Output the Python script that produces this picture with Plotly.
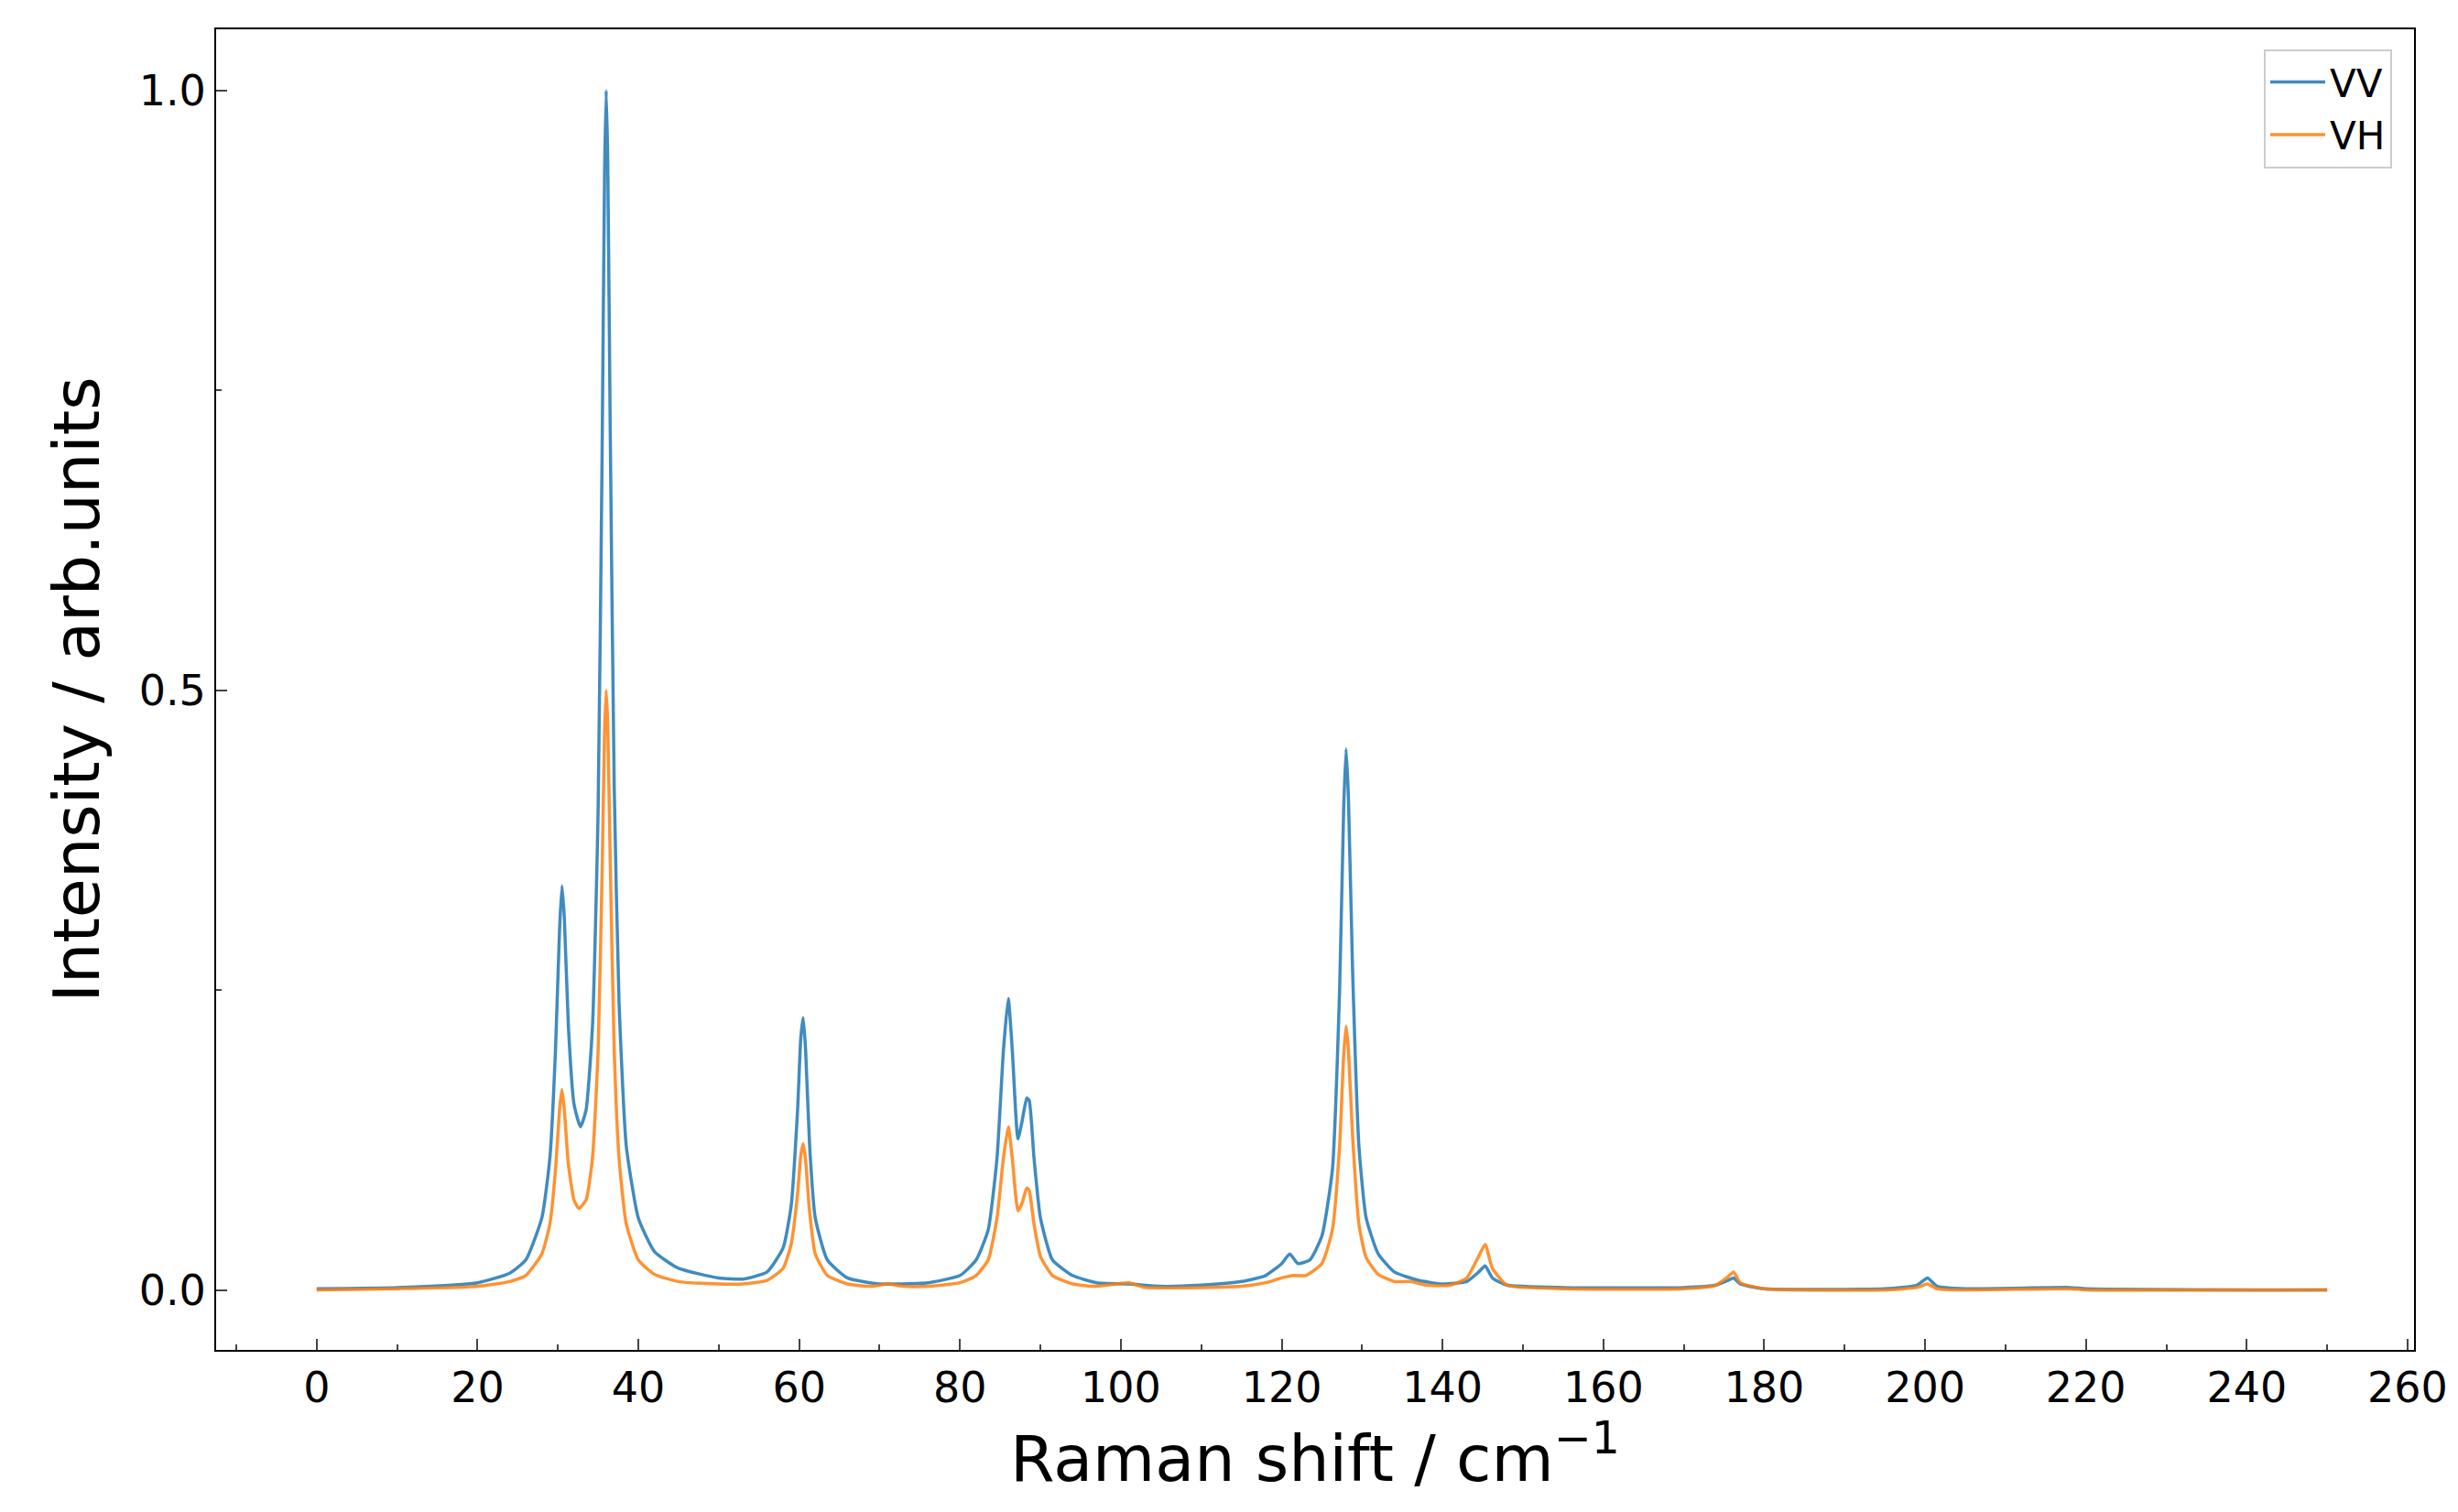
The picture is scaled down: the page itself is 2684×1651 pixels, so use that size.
import plotly.graph_objects as go

vv_x = [0,10,20,24,26,28,29,29.7,30.2,30.5,30.8,31.3,32,32.8,33.5,34.3,35,35.5,35.8,36,36.2,36.5,37,37.6,38.5,40,42,45,50,53,56,58,59,59.8,60.2,60.5,60.8,61.3,62,63.5,66,70,72,76,80,82,83.5,84.6,85.4,86,86.5,87.2,87.7,88.3,88.6,89.2,90,91.5,94,97,101,105,110,115,118,120,121,122,123.5,125,126.3,127.2,127.7,128,128.3,128.8,129.6,130.5,132,134,137,140,143,144.5,145.3,146.2,148,155,170,174,175.5,176.2,177,180,195,199,200.3,201.5,205,218,220,250]
vv_y = [0.001,0.002,0.006,0.014,0.025,0.06,0.11,0.2,0.3,0.337,0.31,0.22,0.155,0.136,0.15,0.22,0.4,0.7,0.93,1.0,0.94,0.72,0.42,0.24,0.12,0.06,0.032,0.018,0.01,0.009,0.015,0.035,0.07,0.15,0.21,0.227,0.2,0.12,0.06,0.025,0.01,0.005,0.005,0.006,0.012,0.025,0.05,0.11,0.2,0.243,0.2,0.126,0.14,0.16,0.158,0.11,0.06,0.025,0.012,0.006,0.005,0.003,0.004,0.007,0.012,0.022,0.03,0.022,0.025,0.045,0.1,0.25,0.4,0.451,0.41,0.27,0.12,0.06,0.03,0.015,0.008,0.005,0.007,0.015,0.02,0.01,0.004,0.002,0.002,0.004,0.008,0.01,0.005,0.001,0.001,0.004,0.01,0.003,0.001,0.002,0.001,0.0]

vh_x = [0,10,20,24,26,28,29,29.7,30.2,30.5,30.8,31.3,32,32.6,33.5,34.3,35,35.5,35.8,36,36.2,36.5,37,37.6,38.5,40,42,45,50,53,56,58,59,59.8,60.2,60.5,60.8,61.3,62,63.5,66,69,71,73,76,80,82,83.5,84.6,85.4,86,86.5,87.2,87.7,88.3,88.6,89.2,90,91.5,94,97,101,103,110,115,118,120,121.5,123,125,126.3,127.2,127.7,128,128.3,128.8,129.6,130.5,132,134,136,138,141,143,144.5,145.3,146.2,148,155,170,174,175.5,176.2,177,180,195,199,200.3,201.5,205,218,220,250]
vh_y = [0.0,0.001,0.003,0.007,0.012,0.03,0.055,0.1,0.15,0.167,0.15,0.105,0.075,0.068,0.075,0.11,0.2,0.35,0.465,0.5,0.47,0.36,0.2,0.11,0.055,0.025,0.013,0.007,0.005,0.005,0.008,0.018,0.038,0.08,0.112,0.122,0.108,0.065,0.03,0.012,0.005,0.003,0.005,0.003,0.003,0.006,0.012,0.025,0.06,0.11,0.136,0.11,0.066,0.072,0.085,0.083,0.055,0.028,0.012,0.005,0.003,0.006,0.002,0.002,0.003,0.006,0.01,0.012,0.012,0.022,0.05,0.12,0.195,0.22,0.2,0.13,0.055,0.027,0.013,0.007,0.007,0.004,0.004,0.01,0.028,0.038,0.018,0.004,0.001,0.001,0.004,0.011,0.015,0.006,0.001,0.0,0.002,0.005,0.001,0.0,0.001,0.0,0.0]

x_ticks = list(range(0, 261, 20))
y_ticks = [0.0, 0.5, 1.0]
y_labels = ["0.0", "0.5", "1.0"]

fig = go.Figure()
fig.add_trace(go.Scatter(x=vv_x, y=vv_y, name="VV", mode="lines",
                         line=dict(color="rgba(31,119,180,0.85)", width=3.5, shape="spline", smoothing=0.5)))
fig.add_trace(go.Scatter(x=vh_x, y=vh_y, name="VH", mode="lines",
                         line=dict(color="rgba(255,127,14,0.85)", width=3.5, shape="spline", smoothing=0.5)))

fig.update_layout(
    width=2684, height=1651, paper_bgcolor="white", plot_bgcolor="white",
    margin=dict(l=228, r=56, t=24, b=185),
    font=dict(family="DejaVu Sans", color="black"),
    legend=dict(x=0.99, y=0.985, xanchor="right", yanchor="top",
                bgcolor="white", bordercolor="#cccccc", borderwidth=2,
                font=dict(size=42), itemwidth=60, tracegroupgap=10),
)
fig.update_xaxes(range=[-12.5, 260.8], tickvals=x_ticks, ticks="inside", ticklen=12, tickwidth=2,
                 showgrid=False, zeroline=False, showline=True, linecolor="black", linewidth=2, mirror=True,
                 tickfont=dict(size=46),
                 minor=dict(dtick=10, tick0=0, ticks="inside", ticklen=6, tickwidth=2),
                 title=dict(text="Raman shift / cm<sup>−1</sup>", font=dict(size=70), standoff=20))
fig.update_yaxes(range=[-0.05, 1.051], tickvals=y_ticks, ticktext=y_labels, ticks="inside", ticklen=12, tickwidth=2,
                 showgrid=False, zeroline=False, showline=True, linecolor="black", linewidth=2, mirror=True,
                 tickfont=dict(size=46),
                 minor=dict(dtick=0.25, tick0=0, ticks="inside", ticklen=6, tickwidth=2),
                 title=dict(text="Intensity / arb.units", font=dict(size=70), standoff=20))
fig.write_html("out.html")
